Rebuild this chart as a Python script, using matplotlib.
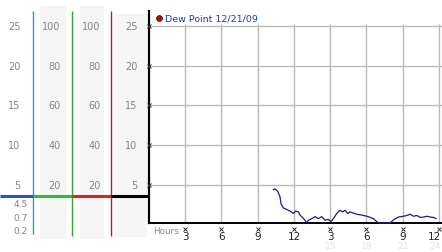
import matplotlib
matplotlib.use("Agg")
import matplotlib.pyplot as plt
import matplotlib.transforms as mtransforms

# ---- data ----
hours = [10.29, 10.43, 10.65, 10.84, 10.93, 11.12, 11.40, 11.67, 11.95, 12.14,
         12.36, 12.50, 12.77, 13.05, 13.19, 13.47, 13.74, 14.01, 14.30, 14.57,
         14.84, 15.07, 15.26, 15.54, 15.81, 16.00, 16.23, 16.45, 16.64, 17.19,
         17.61, 18.15, 18.57, 18.98, 19.95, 20.23, 20.64, 21.05, 21.34, 21.61,
         21.89, 22.17, 22.45, 22.72, 23.00, 23.28, 23.55, 23.76]
dew_point = [4.4, 4.5, 4.2, 3.5, 2.6, 2.1, 1.9, 1.7, 1.4, 1.7,
             1.6, 1.2, 0.8, 0.25, 0.55, 0.75, 1.0, 0.75, 1.0, 0.55,
             0.65, 0.4, 0.75, 1.4, 1.8, 1.6, 1.8, 1.4, 1.6, 1.3,
             1.2, 1.0, 0.75, 0.2, 0.2, 0.6, 0.95, 1.05, 1.15, 1.3,
             1.05, 1.15, 0.9, 0.95, 1.05, 0.95, 0.9, 0.75]
y_ticks = [5, 10, 15, 20, 25]
pct_ticks = [20, 40, 60, 80, 100]
stats_labels = ["4.5", "0.7", "0.2"]
x_ticks = [3, 6, 9, 12, 15, 18, 21, 24]
x_tick_labels = ["3", "6", "9", "12", "3", "6", "9", "12"]
faint_ticks = [15, 18, 21, 24]
faint_labels = ["15", "18", "21", "24"]
legend_label = "Dew Point 12/21/09"

W, H = 442, 253
fig = plt.figure(figsize=(W / 100, H / 100), dpi=100)
fig.patch.set_facecolor("white")

def fx(px):
    return px / W

def fy(py):
    return 1 - py / H

# main axes
ax = fig.add_axes([fx(149), fy(224), fx(442 - 149), (224 - 12) / H])
ax.set_xlim(0, 24.25)
ax.set_ylim(0.2, 26.9)
for s in ["top", "right"]:
    ax.spines[s].set_visible(False)
ax.spines["left"].set_linewidth(1.6)
ax.spines["bottom"].set_linewidth(1.4)
ax.spines["left"].set_color("black")
ax.spines["bottom"].set_color("black")
ax.set_xticks([])
ax.set_yticks([])
ax.set_facecolor("white")

grid_c = "#bababa"
ax.hlines(y_ticks, 0, 24.25, colors=grid_c, lw=1.0, zorder=1)
ax.vlines(x_ticks, 0.2, 25.25, colors=grid_c, lw=1.0, zorder=1)

ax.plot(hours, dew_point, color="#1a1a90", lw=0.9, zorder=3, clip_on=False)

# tick marks (tiny crosses)
ax.plot([0.0] * len(y_ticks), y_ticks, ls="none", marker="x", ms=2.2,
        mew=0.7, color="#333333", clip_on=False, zorder=4)
tb = mtransforms.blended_transform_factory(ax.transData, fig.transFigure)
ax.plot(x_ticks, [fy(229.5)] * len(x_ticks), ls="none", marker="x", ms=2.2,
        mew=0.7, color="#333333", transform=tb, clip_on=False, zorder=4)

last = len(x_ticks) - 1
for i, (xv, lab) in enumerate(zip(x_ticks, x_tick_labels)):
    if i == last:
        ax.text(xv + 2 / 12.08, fy(237.5), lab, transform=tb, ha="right",
                va="center", fontsize=7.5, color="#222222")
    else:
        ax.text(xv, fy(237.5), lab, transform=tb, ha="center", va="center",
                fontsize=7.5, color="#222222")
for i, (xv, lab) in enumerate(zip(faint_ticks, faint_labels)):
    if i == len(faint_ticks) - 1:
        ax.text(xv + 2 / 12.08, fy(247), lab, transform=tb, ha="right",
                va="center", fontsize=6.5, color="#e2e2e2")
    else:
        ax.text(xv, fy(247), lab, transform=tb, ha="center", va="center",
                fontsize=6.5, color="#e2e2e2")
fig.text(fx(153), fy(232), "Hours", ha="left", va="center", fontsize=6.3,
         color="#888888")

# legend
fig.text(fx(165), fy(19), legend_label, ha="left", va="center",
         fontsize=6.8, color="#1a3cb0")
ax.plot([fx(159)], [fy(19)], marker="o", ms=4.2, mfc="#aa1111", mec="#330000",
        mew=0.5, transform=fig.transFigure, clip_on=False)

# left panel
lax = fig.add_axes([0, 0, 1, 1], zorder=-1)
lax.set_xlim(0, W)
lax.set_ylim(H, 0)
lax.axis("off")
bg = "#f5f5f5"
lax.add_patch(plt.Rectangle((40, 7), 26, 233, color=bg, lw=0))
lax.add_patch(plt.Rectangle((80, 7), 24, 233, color=bg, lw=0))
lax.add_patch(plt.Rectangle((115, 15), 32, 223, color=bg, lw=0))

lax.vlines([33], 12, 235, colors="#2a9acb", lw=1.0)
lax.vlines([72], 12, 237, colors="#33a333", lw=1.0)
lax.vlines([111], 12, 237, colors="#b52020", lw=1.0)
lax.hlines(197, 0, 33, colors="#2255cc", lw=2.2)
lax.hlines(197, 33, 72, colors="#33bb33", lw=2.2)
lax.hlines(197, 72, 111, colors="#dd2222", lw=2.2)
lax.hlines(197, 111, 149, colors="black", lw=2.2)

ty = mtransforms.blended_transform_factory(fig.transFigure, ax.transData)
lab_c = "#858585"
for v, p in zip(y_ticks, pct_ticks):
    fig.text(fx(20.5), v, str(v), transform=ty, ha="right", va="center",
             fontsize=7, color=lab_c)
    fig.text(fx(60.5), v, str(p), transform=ty, ha="right", va="center",
             fontsize=7, color=lab_c)
    fig.text(fx(100.5), v, str(p), transform=ty, ha="right", va="center",
             fontsize=7, color=lab_c)
    fig.text(fx(137.5), v, str(v), transform=ty, ha="right", va="center",
             fontsize=7, color=lab_c)

for i, s in enumerate(stats_labels):
    fig.text(fx(27.5), fy(205 + 13.5 * i), s, ha="right", va="center",
             fontsize=6.5, color=lab_c)

fig.savefig("out.png", dpi=100, facecolor="white")
